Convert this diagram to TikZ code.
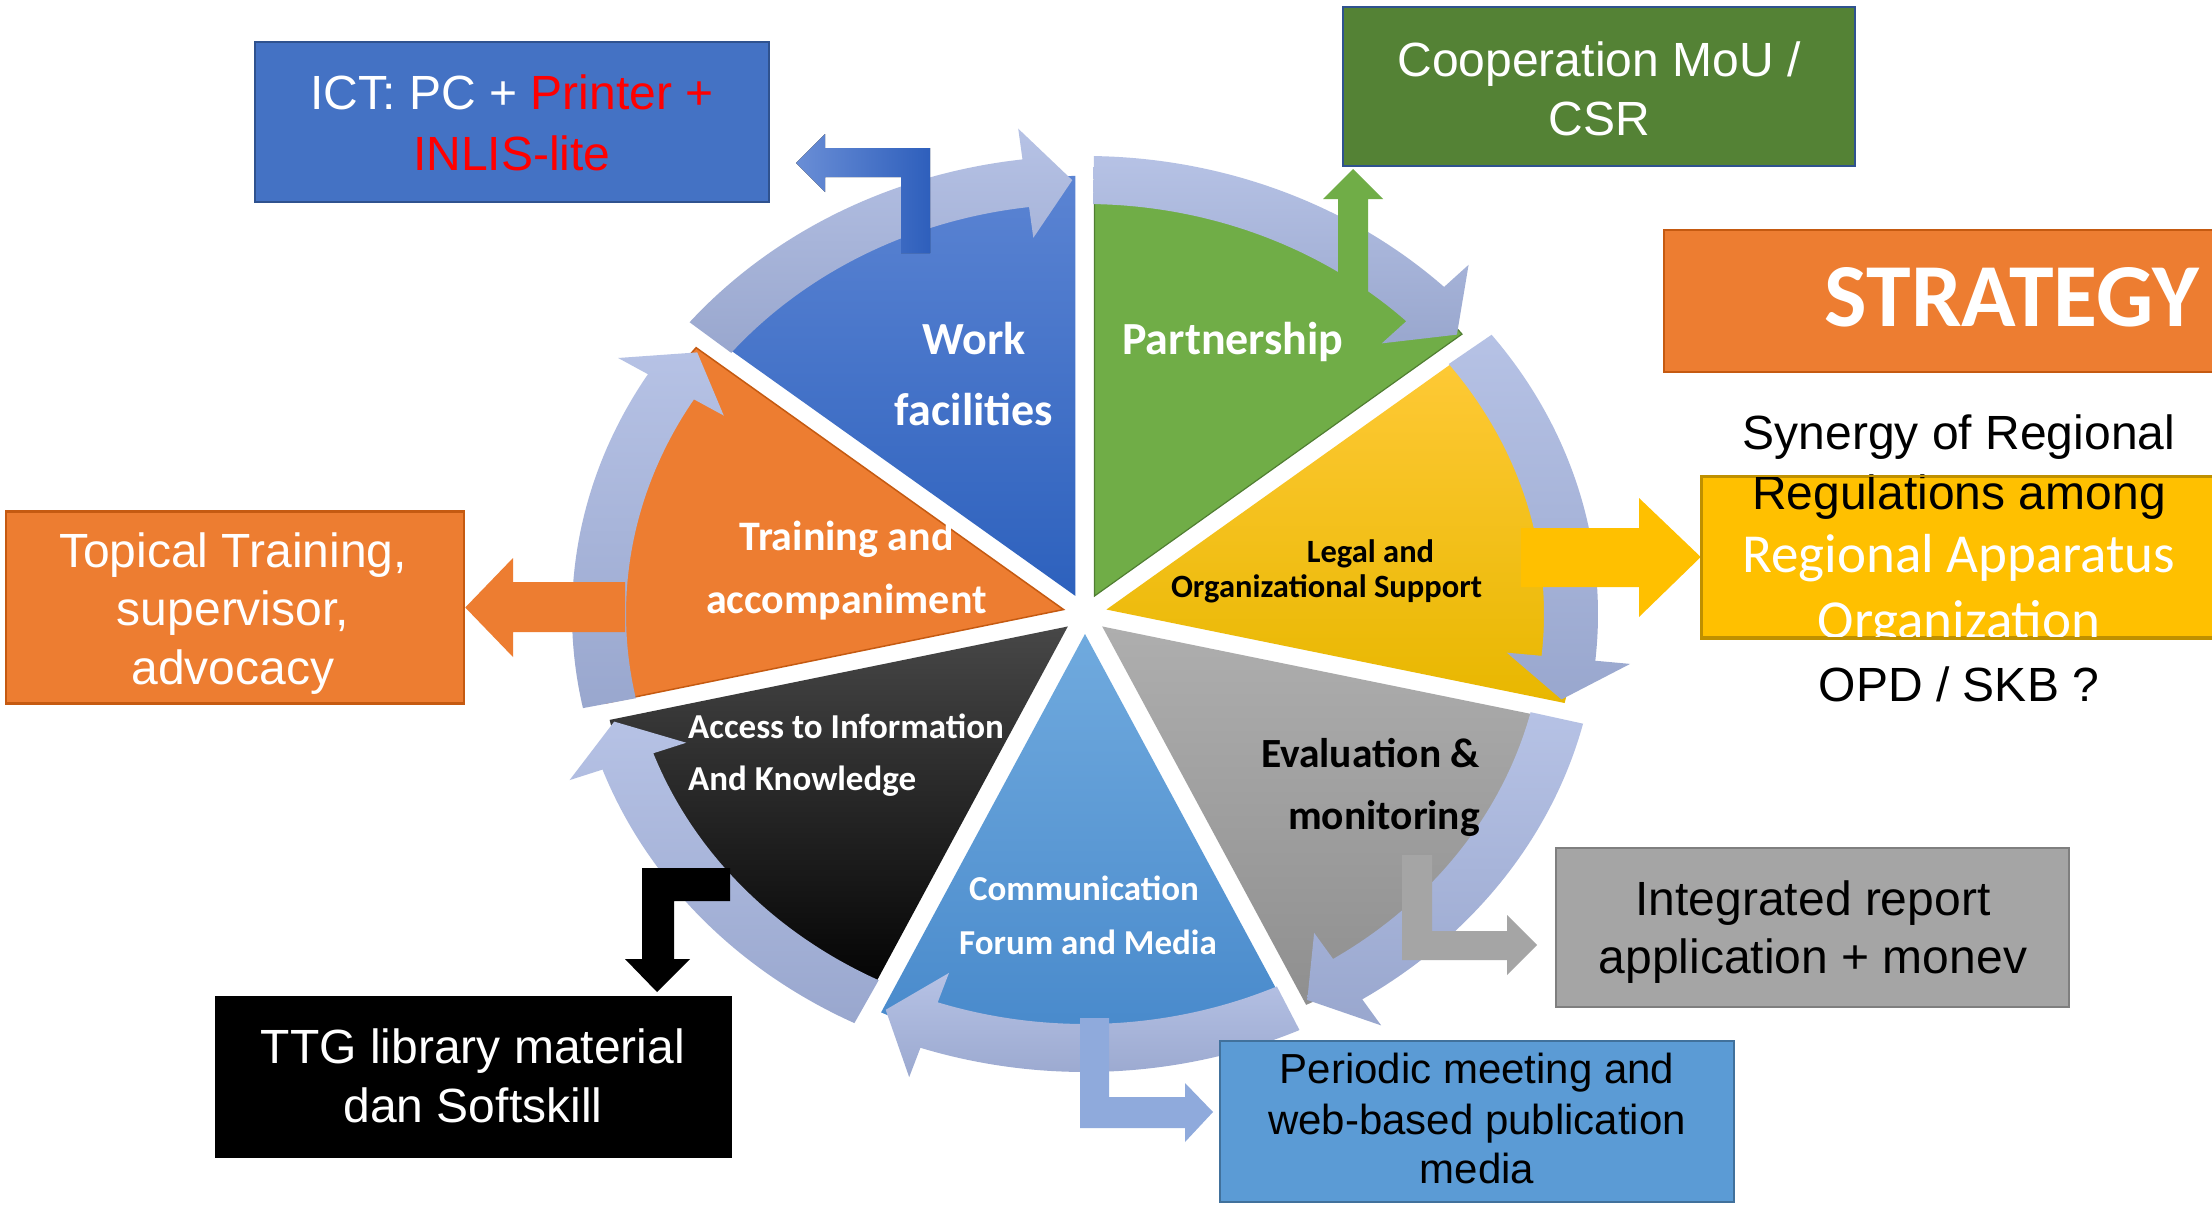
\documentclass[tikz,border=0pt]{standalone}
\usepackage{fontspec}
\setmainfont{Liberation Sans}
\newfontfamily\calfont{Carlito}
\definecolor{ictblue}{HTML}{4472C4}
\definecolor{ictedge}{HTML}{2F528F}
\definecolor{coopgreen}{HTML}{548235}
\definecolor{orangeA}{HTML}{ED7D31}
\definecolor{orangeEdge}{HTML}{C55A11}
\definecolor{goldA}{HTML}{FFC000}
\definecolor{goldEdge}{HTML}{BF9000}
\definecolor{greyA}{HTML}{A5A5A5}
\definecolor{greyEdge}{HTML}{7F7F7F}
\definecolor{skyA}{HTML}{5B9BD5}
\definecolor{skyEdge}{HTML}{41719C}
\definecolor{ringTop}{HTML}{B6C2E5}
\definecolor{ringBot}{HTML}{99A7CE}
\definecolor{greenA}{HTML}{70AD47}
\definecolor{greenEdge}{HTML}{507E32}
\definecolor{periA}{HTML}{8FAADC}
\definecolor{blueTop}{HTML}{5B84D3}
\definecolor{blueBot}{HTML}{2D61BD}
\definecolor{yelTop}{HTML}{FFCA38}
\definecolor{yelBot}{HTML}{E8B700}
\definecolor{gryTop}{HTML}{AEAEAE}
\definecolor{gryBot}{HTML}{8F8F8F}
\definecolor{ltbTop}{HTML}{70AADE}
\definecolor{ltbBot}{HTML}{4587CA}
\definecolor{bentL}{HTML}{6A8ED6}
\definecolor{bentR}{HTML}{2E5FBC}
\newcommand\segf[1]{\calfont\bfseries\fontsize{#1}{#1}\selectfont}
\newcommand\pieslice[2]{%
  \pgfmathsetmacro\slA{-(#1)-25.7143}%
  \pgfmathsetmacro\slB{-(#1)+25.7143}%
  \pgfmathsetmacro\slM{-(#1)}%
  \path[#2] (\slM:22 and 20) -- ++(\slA:470 and 420)
    arc[start angle=\slA, end angle=\slB, x radius=470, y radius=420] -- cycle;}
\begin{document}
\begin{tikzpicture}[x=1pt,y=-1pt,
  ringarrow/.style={top color=ringTop, bottom color=ringBot, draw=none},
  boxshape/.style={draw, line width=2.5pt, inner sep=0pt},
  ln/.style={anchor=base, inner sep=0pt, font=\fontsize{48}{58}\selectfont},
  lnsmall/.style={anchor=base, inner sep=0pt, font=\fontsize{42}{50}\selectfont},
  seglbl/.style={anchor=base, inner sep=0pt}]
\useasboundingbox (0,0) rectangle (2212,1207);
\fill[white] (0,0) rectangle (2212,1207);

% ---------------- pie ----------------
\begin{scope}[shift={(1085,614)}]
  \pieslice{115.7143}{top color=blueTop, bottom color=blueBot}
  \pieslice{64.2857}{fill=greenA, draw=greenEdge, line width=1.2pt}
  \pieslice{12.8571}{top color=yelTop, bottom color=yelBot}
  \pieslice{-38.5714}{top color=gryTop, bottom color=gryBot}
  \pieslice{-90}{top color=ltbTop, bottom color=ltbBot}
  \pieslice{-141.4286}{top color=black!72, middle color=black, bottom color=black}
  \pieslice{167.1429}{fill=orangeA, draw=orangeEdge, line width=1.5pt}
  % ring of circular arrows (clockwise)
  \foreach \lo in {90,141.4286,192.8571,244.2857,295.7143,347.1429,398.5714} {
    \pgfmathsetmacro\T{-(\lo+50.4286)}
    \pgfmathsetmacro\P{-(\lo+1.5)}
    \pgfmathsetmacro\B{-(\lo+7)}
    \path[ringarrow] (\T:513 and 458)
      arc[start angle=\T, end angle=\B, x radius=513, y radius=458]
      -- (\B:548 and 489) -- (\P:486 and 434) -- (\B:424 and 379)
      -- (\B:459 and 410)
      arc[start angle=\B, end angle=\T, x radius=459, y radius=410] -- cycle;
  }
\end{scope}

% ---------------- boxes ----------------
\node[boxshape, fill=ictblue, draw=ictedge, minimum width=514pt, minimum height=160pt] (ict) at (512,122) {};
\node[boxshape, fill=coopgreen, draw=ictedge, minimum width=512pt, minimum height=159pt] (coop) at (1599,86.5) {};
\node[boxshape, fill=orangeA, draw=orangeEdge, minimum width=700pt, minimum height=142pt] (strat) at (2014,301) {};
\node[boxshape, fill=goldA, draw=goldEdge, minimum width=600pt, minimum height=160pt] (synbox) at (2002,557) {};
\node[boxshape, fill=orangeA, draw=orangeEdge, minimum width=458pt, minimum height=192pt] (topical) at (235,607.5) {};
\node[boxshape, fill=black, draw=black, minimum width=515pt, minimum height=160pt] (ttg) at (473.5,1077) {};
\node[boxshape, fill=greyA, draw=greyEdge, minimum width=513pt, minimum height=159pt] (integ) at (1812.5,927.5) {};
\node[boxshape, fill=skyA, draw=skyEdge, minimum width=514pt, minimum height=161pt] (period) at (1477,1121.5) {};

% ---------------- callout arrows ----------------
\coordinate (tipICT) at (796,163);
\coordinate (tipCoop) at (1353,169);
\coordinate (tipSyn) at (synbox.west);
\coordinate (tipTop) at (topical.east);
\coordinate (tipTTG) at (657,992);
\coordinate (tipPer) at (1213,1112);
\coordinate (tipInt) at (1537,945);
\fill[left color=bentL, right color=bentR] (930,253) -- (930,148) -- (825,148) -- (825,134) -- (tipICT) -- (825,192) -- (825,177) -- (901,177) -- (901,253) -- cycle;
\fill[greenA] (1338,292) -- (1338,199) -- (1323,199) -- (tipCoop) -- (1383,199) -- (1368,199) -- (1368,292) -- cycle;
\fill[goldA] (1521,528) -- (1639,528) -- (1639,498) -- (tipSyn) -- (1639,617) -- (1639,587) -- (1521,587) -- cycle;
\fill[orangeA] (625,582) -- (513,582) -- (513,558) -- (tipTop) -- (513,657) -- (513,632) -- (625,632) -- cycle;
\fill[black] (730,868) -- (642,868) -- (642,959) -- (625,959) -- (tipTTG) -- (690,959) -- (674,959) -- (674,901) -- (730,901) -- cycle;
\fill[periA] (1080,1018) -- (1109,1018) -- (1109,1097) -- (1185,1097) -- (1185,1083) -- (tipPer) -- (1185,1142) -- (1185,1128) -- (1080,1128) -- cycle;
\fill[greyA] (1402,855) -- (1432,855) -- (1432,931) -- (1507,931) -- (1507,915) -- (tipInt) -- (1507,975) -- (1507,960) -- (1402,960) -- cycle;

% ---------------- segment labels ----------------
\node[seglbl, text=white, font=\segf{46}] (lw1) at (974,354) {Work};
\node[seglbl, text=white, font=\segf{46}] (lw2) at (974,425) {facilities};
\node[seglbl, text=white, font=\segf{46}] (lp1) at (1233,354) {Partnership};
\node[seglbl, text=black, font=\segf{32.5}] (ll1) at (1370.5,562) {Legal and};
\node[seglbl, text=black, font=\segf{32.5}] (ll2) at (1326.5,597) {Organizational Support};
\node[seglbl, text=white, font=\segf{42}] (lt1) at (846.5,550) {Training and};
\node[seglbl, text=white, font=\segf{42}] (lt2) at (846.5,613) {accompaniment};
\node[seglbl, anchor=base west, text=white, font=\segf{35}] (la1) at (688,738) {Access to Information};
\node[seglbl, anchor=base west, text=white, font=\segf{35}] (la2) at (688,790) {And Knowledge};
\node[seglbl, text=white, font=\segf{35}] (lc1) at (1084,900) {Communication};
\node[seglbl, text=white, font=\segf{35}] (lc2) at (1088,954) {Forum and Media};
\node[seglbl, anchor=base east, text=black, font=\segf{41.5}] (le1) at (1480,767) {Evaluation \&};
\node[seglbl, anchor=base east, text=black, font=\segf{41.5}] (le2) at (1480,829) {monitoring};

% ---------------- box texts ----------------
\node[ln, text=white] (ict1) at (512,110) {ICT: PC + \textcolor{red}{Printer +}};
\node[ln, text=red] (ict2) at (512,170) {INLIS-lite};
\node[ln, text=white] (coop1) at (1599,77) {Cooperation MoU /};
\node[ln, text=white] (coop2) at (1599,135) {CSR};
\node[seglbl, text=white, font=\segf{90}] (stratT) at (2012,326) {STRATEGY};
\node[ln, text=black] (syn1) at (1959,449) {Synergy of Regional};
\node[ln, text=black] (syn2) at (1959,509) {Regulations among};
\node[seglbl, text=white, font=\calfont\fontsize{55}{55}\selectfont] (syn3) at (1959,572) {Regional Apparatus};
\node[seglbl, text=white, font=\calfont\fontsize{55}{55}\selectfont] (syn4) at (1959,638) {Organization};
\draw[goldEdge, line width=2.5pt] (synbox.north west) rectangle (synbox.south east);
\node[ln, text=black] (syn5) at (1959,701) {OPD / SKB ?};
\node[ln, text=white] (top1) at (233,567) {Topical Training,};
\node[ln, text=white] (top2) at (233,625) {supervisor,};
\node[ln, text=white] (top3) at (233,684) {advocacy};
\node[ln, text=white] (ttg1) at (473,1063) {TTG library material};
\node[ln, text=white] (ttg2) at (473,1122) {dan Softskill};
\node[ln, text=black] (int1) at (1813,915) {Integrated report};
\node[ln, text=black] (int2) at (1813,973) {application + monev};
\node[lnsmall, text=black] (per1) at (1477,1083) {Periodic meeting and};
\node[lnsmall, text=black] (per2) at (1477,1134) {web-based publication};
\node[lnsmall, text=black] (per3) at (1477,1183) {media};
\end{tikzpicture}
\end{document}
